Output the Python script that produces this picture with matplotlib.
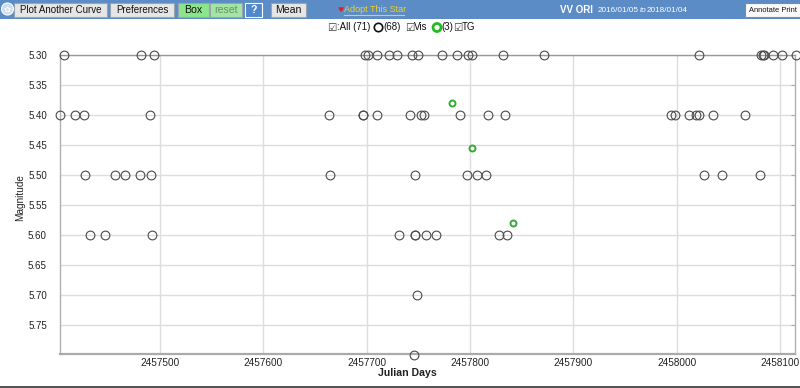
import matplotlib
matplotlib.use("Agg")
import matplotlib.pyplot as plt
from matplotlib.patches import Rectangle, Circle

plt.rcParams['font.family'] = ['Liberation Sans', 'DejaVu Sans']

# ---- data (Julian Day, magnitude) ----
vis_jd = [
    # 5.30
    2457407.1, 2457481.6, 2457494.5, 2457698.7, 2457701.6, 2457709.7, 2457721.9,
    2457729.4, 2457744.2, 2457749.4, 2457772.6, 2457787.1, 2457798.4, 2457801.6,
    2457831.9, 2457871.3, 2458021.9, 2458081.3, 2458083.3, 2458084.5, 2458093.5,
    2458101.6, 2458115.5,
    # 5.40
    2457402.9, 2457418.0, 2457426.2, 2457490.6, 2457663.5, 2457696.5, 2457696.5,
    2457710.3, 2457742.2, 2457752.3, 2457755.5, 2457790.3, 2457817.4, 2457834.2,
    2457994.2, 2457998.4, 2458011.9, 2458019.0, 2458021.3, 2458035.2, 2458065.8,
    # 5.50
    2457427.1, 2457456.7, 2457465.8, 2457480.9, 2457491.6, 2457664.5, 2457747.1,
    2457797.4, 2457807.1, 2457815.2, 2458026.5, 2458043.6, 2458080.9,
    # 5.60
    2457432.0, 2457446.8, 2457492.5, 2457731.3, 2457746.5, 2457746.5, 2457757.4,
    2457767.1, 2457828.1, 2457835.5,
    # 5.70, 5.80
    2457749.0, 2457746.1,
]
vis_mag = ([5.30] * 23 + [5.40] * 21 + [5.50] * 13 + [5.60] * 10 + [5.70, 5.80])

tg_jd = [2457782.9, 2457801.9, 2457841.9]
tg_mag = [5.38, 5.455, 5.58]

x_ticks = [2457500, 2457600, 2457700, 2457800, 2457900, 2458000, 2458100]
y_ticks = [5.30, 5.35, 5.40, 5.45, 5.50, 5.55, 5.60, 5.65, 5.70, 5.75]

W, H = 800, 388
fig = plt.figure(figsize=(W / 100, H / 100), dpi=100)
fig.patch.set_facecolor('white')

# ---- main plot ----
L, R, T, B = 60, 795, 55, 354
ax = fig.add_axes([L / W, 1 - B / H, (R - L) / W, (B - T) / H])
ax.set_xlim(2457403.2, 2458114.5)
ax.set_ylim(5.798, 5.30)
ax.set_xticks(x_ticks)
ax.set_xticklabels([str(t) for t in x_ticks], fontsize=7.2, color='#222222')
ax.set_yticks(y_ticks)
ax.set_yticklabels([f"{t:.2f}" for t in y_ticks], fontsize=7.0, color='#222222')
ax.grid(True, color='#dddddd', lw=1.0)
ax.set_axisbelow(True)
ax.tick_params(axis='x', length=0, pad=3)
ax.tick_params(axis='y', which='both', left=False, right=True, direction='in',
               length=3, color='#aaaaaa', pad=9.5)
for s in ['left', 'right']:
    ax.spines[s].set_color('#b0b0b0')
    ax.spines[s].set_linewidth(1.0)
ax.spines['bottom'].set_color('#aaaaaa')
ax.spines['bottom'].set_linewidth(1.6)
ax.spines['top'].set_color('#999999')
ax.spines['top'].set_linewidth(1.0)

ax.plot(vis_jd, vis_mag, linestyle='none', marker='o', markersize=6.3,
        markerfacecolor='none', markeredgecolor='#4a4a4a', markeredgewidth=0.8,
        clip_on=False, zorder=3)
ax.plot(tg_jd, tg_mag, linestyle='none', marker='o', markersize=4.3,
        markerfacecolor='none', markeredgecolor='#33aa33', markeredgewidth=1.4,
        clip_on=False, zorder=4)

# ---- page chrome overlay (pixel coordinates) ----
ov = fig.add_axes([0, 0, 1, 1], facecolor='none')
ov.set_xlim(0, W)
ov.set_ylim(H, 0)
ov.axis('off')

ov.add_patch(Rectangle((0, 0), W, 18.5, facecolor='#5c8cc6', edgecolor='none'))
ov.add_patch(Circle((7.5, 9), 6, facecolor='#c9dcf0', edgecolor='white', lw=0.8))
ov.text(7.5, 9.3, '✿', ha='center', va='center', fontsize=6, color='white',
        family=['DejaVu Sans'])

def button(x0, x1, label, fc, tc='#111111', ec='#9aa4ae', bold=False, fs=7.0):
    ov.add_patch(Rectangle((x0, 2.5), x1 - x0, 14.5, facecolor=fc, edgecolor=ec, lw=0.8))
    ov.text((x0 + x1) / 2, 10, label, ha='center', va='center', fontsize=fs,
            color=tc, fontweight='bold' if bold else 'normal')

button(14, 107, 'Plot Another Curve', '#e6e6e6', fs=7.0)
button(110, 174, 'Preferences', '#e6e6e6', fs=7.0)
button(178, 209, 'Box', '#8be58b', fs=7.6)
button(210, 242, 'reset', '#a3e6a3', tc='#6b8f6b', fs=7.6)
button(245, 262, '?', '#4f88cc', tc='white', ec='white', bold=True, fs=7.6)
button(271, 306, 'Mean', '#e6e6e6', fs=7.6)
ov.add_patch(Rectangle((745, 3), 60, 13.5, facecolor='#fafafa', edgecolor='#888888', lw=0.8))
ov.text(749, 10, 'Annotate Print', ha='left', va='center', fontsize=5.4, color='#111111')

ov.text(341, 10, '♥', ha='center', va='center', fontsize=5, color='#dd2222',
        family=['DejaVu Sans'])
ov.text(344, 10, 'Adopt This Star', ha='left', va='center', fontsize=6.5, color='#f2d21e')
ov.plot([344, 404], [14.6, 14.6], color='#f2d21e', lw=0.8)

ov.text(560, 10, 'VV ORI', ha='left', va='center', fontsize=7.0, color='white',
        fontweight='bold', family=['Liberation Sans Narrow', 'Liberation Sans'])
ov.text(598, 10.3, '2016/01/05', ha='left', va='center', fontsize=5.9, color='white')
ov.text(640, 10.3, 'to', ha='left', va='center', fontsize=5.9, color='white', style='italic')
ov.text(647, 10.3, '2018/01/04', ha='left', va='center', fontsize=5.9, color='white')

# legend row
ly = 27.5
ov.text(327, ly, '☑', ha='left', va='center', fontsize=7.5, color='#333333',
        family=['DejaVu Sans'])
ov.text(337, ly, ':All (71)', ha='left', va='center', fontsize=7, color='#111111')
ov.add_patch(Circle((378.5, ly), 4.2, facecolor='none', edgecolor='#111111', lw=1.2))
ov.text(383, ly, '(68)', ha='left', va='center', fontsize=7, color='#111111')
ov.text(405, ly, '☑', ha='left', va='center', fontsize=7.5, color='#333333',
        family=['DejaVu Sans'])
ov.text(414, ly, 'Vis', ha='left', va='center', fontsize=7, color='#111111')
ov.add_patch(Circle((437, ly), 4.0, facecolor='none', edgecolor='#22bb22', lw=2.0))
ov.text(441.5, ly, '(3)', ha='left', va='center', fontsize=7, color='#111111')
ov.text(453, ly, '☑', ha='left', va='center', fontsize=7.5, color='#333333',
        family=['DejaVu Sans'])
ov.text(462, ly, 'TG', ha='left', va='center', fontsize=7, color='#111111')

# axis labels
ov.text(20.5, 198, 'Magnitude', ha='center', va='center', rotation=90, fontsize=7.2,
        color='#222222')
ov.text(407, 373, 'Julian Days', ha='center', va='center', fontsize=7.6,
        color='#222222', fontweight='bold')

# bottom page line
ov.add_patch(Rectangle((0, 385.5), W, 2.5, facecolor='#555555', edgecolor='none'))

fig.savefig('out.png', dpi=100)
